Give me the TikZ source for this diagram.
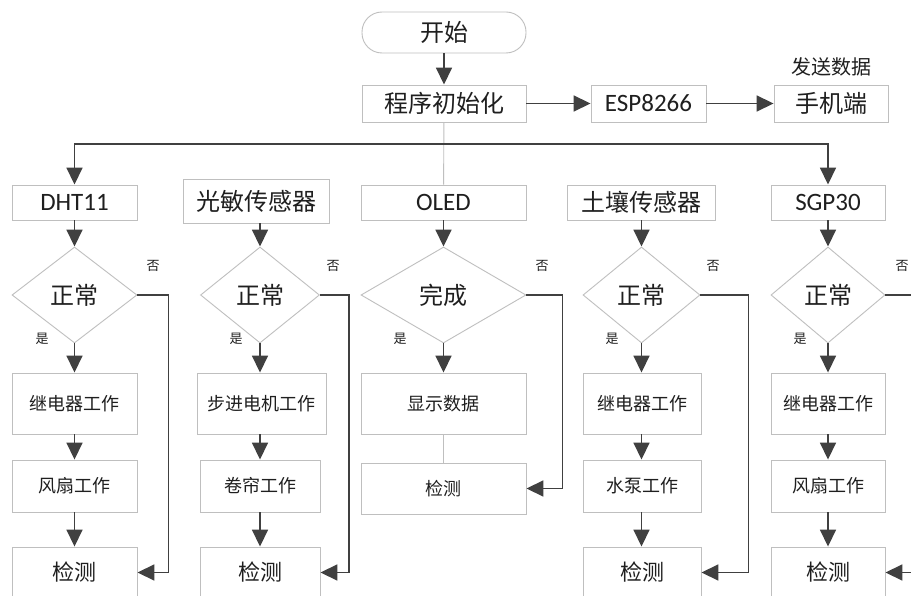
\documentclass[tikz,border=0pt]{standalone}
\usepackage{fontspec}
\setmainfont{Noto Sans CJK SC}
\newfontfamily\lat{Carlito}
\usetikzlibrary{arrows.meta,shapes.geometric}
\definecolor{arrc}{HTML}{404040}
\definecolor{boxc}{HTML}{BFBFBF}
\definecolor{txtc}{HTML}{1F1F1F}
\newcommand{\fsz}[1]{\fontsize{#1}{#1}\selectfont}
\tikzset{
  box/.style={draw=boxc, line width=0.9pt, rectangle, inner sep=0pt, text=txtc},
  term/.style={box, rounded corners=20pt},
  dia/.style={draw=boxc, line width=0.9pt, diamond, inner sep=0pt, minimum height=96pt, text=txtc, font=\fsz{24}},
  arr/.style={draw=arrc, line width=1.7pt, -{Triangle[length=17pt,width=16pt]}},
  thinln/.style={draw=boxc, line width=0.9pt},
  big/.style={font=\fsz{24}},
  mid/.style={font=\fsz{18}},
  latf/.style={font=\lat\fsz{25}},
  small/.style={font=\fsz{13}, text=txtc, inner sep=0pt},
}
\begin{document}
\begin{tikzpicture}[x=1pt,y=-1pt]
\useasboundingbox (0,0) rectangle (911,596);
\clip (0,0) rectangle (911,596);
\fill[white] (0,0) rectangle (911,596);
% top part
\node[term, big, minimum width=164pt, minimum height=41pt] (start) at (444,32.5) {开始};
\node[box, big, minimum width=164pt, minimum height=37pt] (init) at (444,103.5) {程序初始化};
\node[box, latf, minimum width=115pt, minimum height=37pt] (esp) at (648.5,103.5) {ESP8266};
\node[box, big, minimum width=114pt, minimum height=37pt] (phone) at (831,103.5) {手机端};
\node[font=\fsz{20}, text=txtc, inner sep=0pt] (send) at (831,67) {发送数据};
\draw[arr] (start) -- (init);
\draw[arr] (init) -- (esp);
\draw[arr] (esp) -- (phone);
% row 1
\node[box, latf, minimum width=125pt, minimum height=35pt] (c1) at (74.5,202.5) {DHT11};
\node[box, big, minimum width=146pt, minimum height=44pt] (c2) at (256,201) {光敏传感器};
\node[box, latf, minimum width=165pt, minimum height=35pt] (c3) at (443.5,202.5) {OLED};
\node[box, big, minimum width=148pt, minimum height=35pt] (c4) at (641,202.5) {土壤传感器};
\node[box, latf, minimum width=114pt, minimum height=35pt] (c5) at (828,202.5) {SGP30};
\coordinate (split) at (444,144);
\draw[thinln] (init) -- (c3);
\draw[arr] (split) -| (c1);
\draw[arr] (split) -| (c5);
% diamonds
\node[dia, minimum width=125pt] (d1) at (74.5,295) {正常};
\node[dia, minimum width=119pt] (d2) at (260,295) {正常};
\node[dia, minimum width=165pt] (d3) at (443.5,295) {完成};
\node[dia, minimum width=117pt] (d4) at (641.5,295) {正常};
\node[dia, minimum width=114pt] (d5) at (828,295) {正常};
\draw[arr] (c1) -- (d1);
\draw[arr] (c2.south -| d2.north) -- (d2);
\draw[arr] (c3) -- (d3);
\draw[arr] (c4.south -| d4.north) -- (d4);
\draw[arr] (c5) -- (d5);
% yes / no labels
\node[small] (n1) at (153,266) {否};
\node[small] (n2) at (333,266) {否};
\node[small] (n3) at (542,266) {否};
\node[small] (n4) at (713,266) {否};
\node[small] (n5) at (902,266) {否};
\node[small] (y1) at (42,339) {是};
\node[small] (y2) at (236,339) {是};
\node[small] (y3) at (400,339) {是};
\node[small] (y4) at (612,339) {是};
\node[small] (y5) at (800,339) {是};
% row 2
\node[box, mid, minimum width=125pt, minimum height=61pt] (a1) at (74.5,403.5) {继电器工作};
\node[box, mid, minimum width=129pt, minimum height=61pt] (a2) at (261.5,403.5) {步进电机工作};
\node[box, mid, minimum width=165pt, minimum height=61pt] (a3) at (443.5,403.5) {显示数据};
\node[box, mid, minimum width=118pt, minimum height=61pt] (a4) at (642,403.5) {继电器工作};
\node[box, mid, minimum width=114pt, minimum height=61pt] (a5) at (828,403.5) {继电器工作};
\draw[arr] (d1) -- (a1.north -| d1.south);
\draw[arr] (d2) -- (a2.north -| d2.south);
\draw[arr] (d3) -- (a3.north -| d3.south);
\draw[arr] (d4) -- (a4.north -| d4.south);
\draw[arr] (d5) -- (a5.north -| d5.south);
% row 3
\node[box, mid, minimum width=125pt, minimum height=52pt] (b1) at (74.5,486) {风扇工作};
\node[box, mid, minimum width=120pt, minimum height=52pt] (b2) at (260,486) {卷帘工作};
\node[box, mid, minimum width=165pt, minimum height=51pt] (b3) at (443.5,488.5) {检测};
\node[box, mid, minimum width=118pt, minimum height=52pt] (b4) at (642,486) {水泵工作};
\node[box, mid, minimum width=114pt, minimum height=52pt] (b5) at (828,486) {风扇工作};
\draw[arr] (a1.south -| d1.south) -- (b1.north -| d1.south);
\draw[arr] (a2.south -| d2.south) -- (b2.north -| d2.south);
\draw[thinln] (a3) -- (b3);
\draw[arr] (a4.south -| d4.south) -- (b4.north -| d4.south);
\draw[arr] (a5.south -| d5.south) -- (b5.north -| d5.south);
% row 4
\node[box, font=\fsz{22}, minimum width=125pt, minimum height=51pt] (e1) at (74.5,572.5) {检测};
\node[box, font=\fsz{22}, minimum width=120pt, minimum height=51pt] (e2) at (260,572.5) {检测};
\node[box, font=\fsz{22}, minimum width=118pt, minimum height=51pt] (e4) at (642,572.5) {检测};
\node[box, font=\fsz{22}, minimum width=114pt, minimum height=51pt] (e5) at (828,572.5) {检测};
\draw[arr] (b1.south -| d1.south) -- (e1.north -| d1.south);
\draw[arr] (b2.south -| d2.south) -- (e2.north -| d2.south);
\draw[arr] (b4.south -| d4.south) -- (e4.north -| d4.south);
\draw[arr] (b5.south -| d5.south) -- (e5.north -| d5.south);
% no-branches
\draw[arr] (d1.east) -- ++(31,0) |- (e1.east);
\draw[arr] (d2.east) -- ++(29,0) |- (e2.east);
\draw[arr] (d3.east) -- ++(36,0) |- (b3.east);
\draw[arr] (d4.east) -- ++(48,0) |- (e4.east);
\draw[arr] (d5.east) -- ++(40,0) |- (e5.east);
\end{tikzpicture}
\end{document}
